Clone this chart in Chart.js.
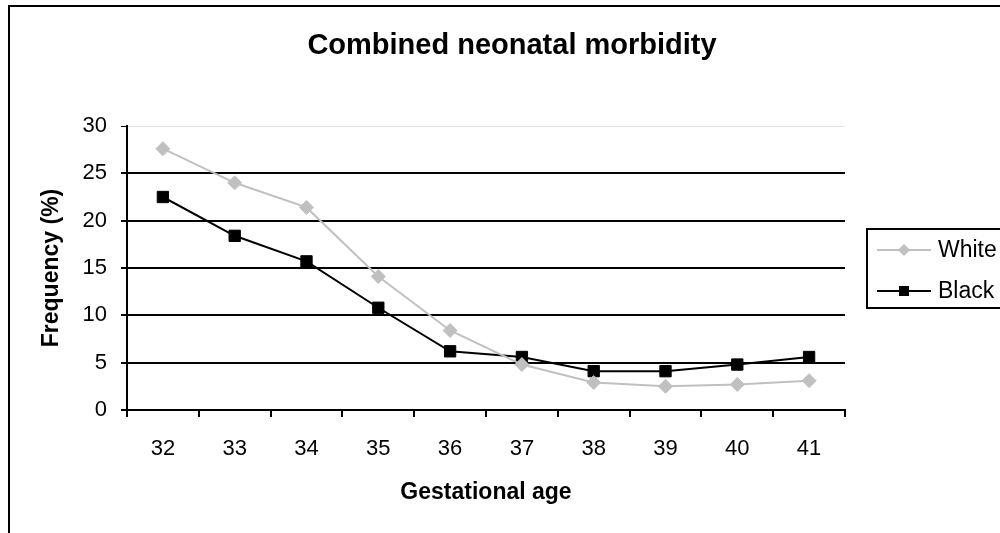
<!DOCTYPE html>
<html>
<head>
<meta charset="utf-8">
<script src="https://cdn.jsdelivr.net/npm/chart.js@4"></script>
<style>
  html, body { margin: 0; padding: 0; background: #fff; }
  #wrap { width: 1000px; height: 533px; }
</style>
</head>
<body>
<div id="wrap"><canvas id="chart1" width="1000" height="533"></canvas></div>
<script>
const ages = ['32', '33', '34', '35', '36', '37', '38', '39', '40', '41'];
const white = [27.6, 24.0, 21.4, 14.1, 8.4, 4.8, 2.9, 2.5, 2.7, 3.1];
const black = [22.5, 18.4, 15.7, 10.8, 6.2, 5.6, 4.1, 4.1, 4.8, 5.6];
const yTicks = [0, 5, 10, 15, 20, 25, 30];

const FONT = '"Liberation Sans", Arial, sans-serif';
const TITLE = 'Combined neonatal morbidity';

// outer frame, title and the boxed legend (Excel style)
const decor = {
  id: 'decor',
  beforeDraw(chart) {
    const ctx = chart.ctx;
    ctx.save();
    ctx.strokeStyle = '#000';
    ctx.lineWidth = 2;
    ctx.beginPath();
    ctx.moveTo(9, 533);
    ctx.lineTo(9, 6);
    ctx.lineTo(1000, 6);
    ctx.stroke();
    ctx.restore();
  },
  afterDraw(chart) {
    const ctx = chart.ctx;
    ctx.save();
    ctx.fillStyle = '#000';
    ctx.font = 'bold 29px ' + FONT;
    ctx.textAlign = 'center';
    ctx.textBaseline = 'middle';
    ctx.fillText(TITLE, 512, 46);

    ctx.strokeStyle = '#000';
    ctx.lineWidth = 2;
    ctx.strokeRect(867, 229, 160, 79);

    const rows = [250, 291];
    chart.data.datasets.forEach((ds, i) => {
      const y = rows[i];
      ctx.strokeStyle = ds.borderColor;
      ctx.lineWidth = 2;
      ctx.beginPath();
      ctx.moveTo(877, y);
      ctx.lineTo(931, y);
      ctx.stroke();
      ctx.fillStyle = ds.pointBackgroundColor;
      ctx.beginPath();
      if (ds.pointStyle === 'rectRot') {
        ctx.moveTo(904 - 6, y);
        ctx.lineTo(904, y - 6);
        ctx.lineTo(904 + 6, y);
        ctx.lineTo(904, y + 6);
        ctx.closePath();
      } else {
        ctx.rect(904 - 5, y - 5, 10, 10);
      }
      ctx.fill();
      ctx.fillStyle = '#000';
      ctx.font = '23px ' + FONT;
      ctx.textAlign = 'left';
      ctx.fillText(ds.label, 938, y + 1);
    });
    ctx.restore();
  }
};

new Chart(document.getElementById('chart1'), {
  type: 'line',
  data: {
    labels: ages,
    datasets: [{
      label: 'White',
      data: white,
      borderColor: '#c0c0c0',
      borderWidth: 2,
      pointStyle: 'rectRot',
      pointRadius: 7,
      pointHoverRadius: 7,
      pointBackgroundColor: '#c0c0c0',
      pointBorderColor: '#c0c0c0',
      pointBorderWidth: 1,
      tension: 0
    }, {
      label: 'Black',
      data: black,
      borderColor: '#000',
      borderWidth: 2,
      pointStyle: 'rect',
      pointRadius: 8,
      pointHoverRadius: 8,
      pointBackgroundColor: '#000',
      pointBorderColor: '#000',
      pointBorderWidth: 1,
      tension: 0
    }]
  },
  options: {
    responsive: false,
    maintainAspectRatio: false,
    animation: false,
    layout: { padding: { top: 126, left: 0, right: 155, bottom: 0 } },
    plugins: {
      legend: { display: false },
      title: { display: false },
      tooltip: { enabled: false }
    },
    scales: {
      x: {
        offset: true,
        afterFit(scale) { scale.height = 123; },
        grid: {
          offset: true,
          drawOnChartArea: false,
          drawTicks: true,
          tickLength: 7,
          tickColor: '#000',
          lineWidth: 2
        },
        border: { color: '#000', width: 2 },
        ticks: {
          color: '#000',
          padding: 19,
          font: { family: FONT, size: 22 }
        },
        title: {
          display: true,
          text: 'Gestational age',
          color: '#000',
          font: { family: FONT, size: 23, weight: 'bold' },
          padding: { top: 0, bottom: 27 }
        }
      },
      y: {
        min: 0,
        max: 30,
        afterFit(scale) { scale.width = 127; },
        afterBuildTicks(scale) { scale.ticks = yTicks.map(v => ({ value: v })); },
        grid: {
          color: ctx => (ctx.tick && ctx.tick.value === 30) ? '#e4e4e4' : '#000',
          lineWidth: ctx => (ctx.tick && ctx.tick.value === 30) ? 1 : 2,
          tickColor: '#000',
          tickLength: 6,
          drawTicks: true
        },
        border: { color: '#000', width: 2 },
        ticks: {
          color: '#000',
          padding: 14,
          font: { family: FONT, size: 22 }
        },
        title: {
          display: true,
          text: 'Frequency (%)',
          color: '#000',
          font: { family: FONT, size: 23, weight: 'bold' },
          padding: { top: 38, bottom: 0 }
        }
      }
    }
  },
  plugins: [decor]
});
</script>
</body>
</html>
